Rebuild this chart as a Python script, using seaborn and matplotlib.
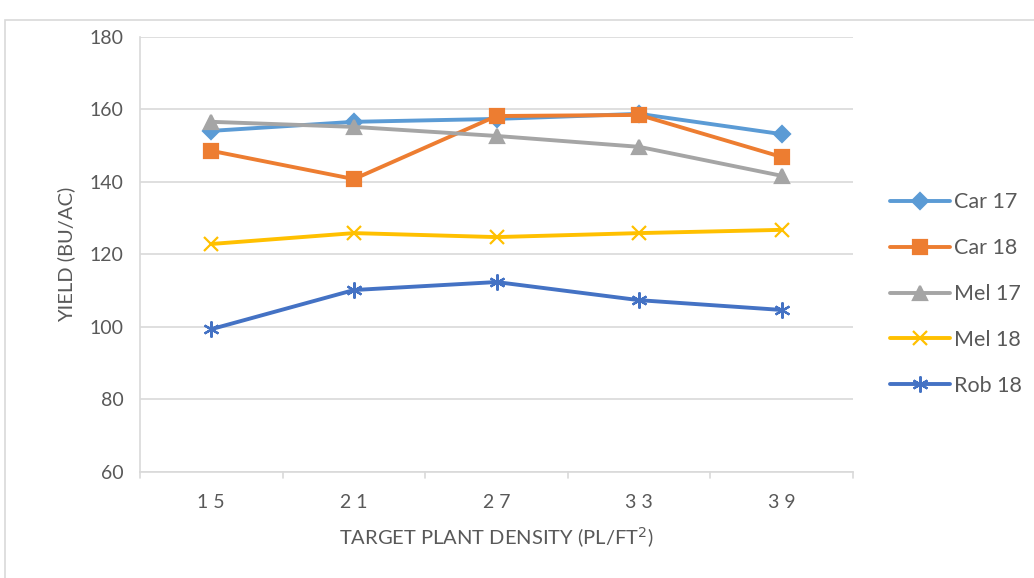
import matplotlib.pyplot as plt
import matplotlib.patches as mpatches
import pandas as pd
import seaborn as sns

# data
density = ['15', '21', '27', '33', '39']
car17 = [154.1, 156.6, 157.4, 158.8, 153.2]
car18 = [148.6, 140.8, 158.2, 158.5, 146.9]
mel17 = [156.6, 155.2, 152.7, 149.7, 141.7]
mel18 = [122.9, 125.9, 124.8, 125.9, 126.8]
rob18 = [99.4, 110.2, 112.4, 107.4, 104.7]
series = ['Car 17', 'Car 18', 'Mel 17', 'Mel 18', 'Rob 18']
yticks = [60, 80, 100, 120, 140, 160, 180]

rows = []
for name, vals in zip(series, [car17, car18, mel17, mel18, rob18]):
    for i, (d, v) in enumerate(zip(density, vals)):
        rows.append({'pos': i, 'density': d, 'yield': v, 'series': name})
df = pd.DataFrame(rows)

sns.set_style('white')
plt.rcParams['font.family'] = ['Lato', 'DejaVu Sans']

colors = {'Car 17': '#5B9BD5', 'Car 18': '#ED7D31', 'Mel 17': '#A5A5A5',
          'Mel 18': '#FFC000', 'Rob 18': '#4472C4'}
markers = {'Car 17': 'D', 'Car 18': 's', 'Mel 17': '^', 'Mel 18': 'x', 'Rob 18': (6, 2, 0)}
msize = {'Car 17': 8.5, 'Car 18': 10.5, 'Mel 17': 10.5, 'Mel 18': 10.5, 'Rob 18': 11.5}

fig = plt.figure(figsize=(10.34, 5.78), dpi=100)
ax = fig.add_axes([0.1354, 0.1834, 0.6896, 0.7526])

# outer chart border
fig.patches.append(mpatches.Rectangle((5 / 1034, -0.1), 1.2, 1 - 20 / 578 + 0.1,
                                      transform=fig.transFigure, fill=False,
                                      edgecolor='#D9D9D9', lw=1.2))

for name in series:
    sub = df[df['series'] == name]
    sns.lineplot(data=sub, x='pos', y='yield', ax=ax, color=colors[name],
                 marker=markers[name], markersize=msize[name], lw=2.8,
                 markeredgecolor=colors[name], markeredgewidth=1.6, label=name)

ax.set_xlim(-0.5, 4.5)
ax.set_ylim(60, 180)
ax.set_yticks(yticks)
ax.set_xticks(range(len(density)))
ax.set_xticklabels([' '.join(d) for d in density])
ax.grid(axis='y', color='#D9D9D9', lw=1.2)
ax.set_axisbelow(True)
for s in ['top', 'right']:
    ax.spines[s].set_visible(False)
ax.spines['left'].set_color('#D9D9D9')
ax.spines['bottom'].set_color('#D9D9D9')
ax.spines['left'].set_linewidth(1.2)
ax.spines['bottom'].set_linewidth(1.2)

# category tick marks between categories
for xb in [-0.5, 0.5, 1.5, 2.5, 3.5, 4.5]:
    ax.plot([xb, xb], [60, 58.3], color='#D9D9D9', lw=1.2, clip_on=False)
ax.tick_params(axis='x', length=0, pad=16, labelsize=14, colors='#595959')
ax.tick_params(axis='y', length=0, pad=12, labelsize=14, colors='#595959')

ax.set_xlabel('TARGET PLANT DENSITY (PL/FT$^2$)', fontsize=14.5, color='#595959', labelpad=10)
ax.set_ylabel('YIELD (BU/AC)', fontsize=14.5, color='#595959', labelpad=10)

leg = ax.legend(loc='center left', bbox_to_anchor=(1.04, 0.409), frameon=False,
                fontsize=15.5, labelspacing=1.2, handlelength=2.8, handletextpad=0.15,
                labelcolor='#595959', borderaxespad=0)

fig.savefig('out.png', dpi=100)
